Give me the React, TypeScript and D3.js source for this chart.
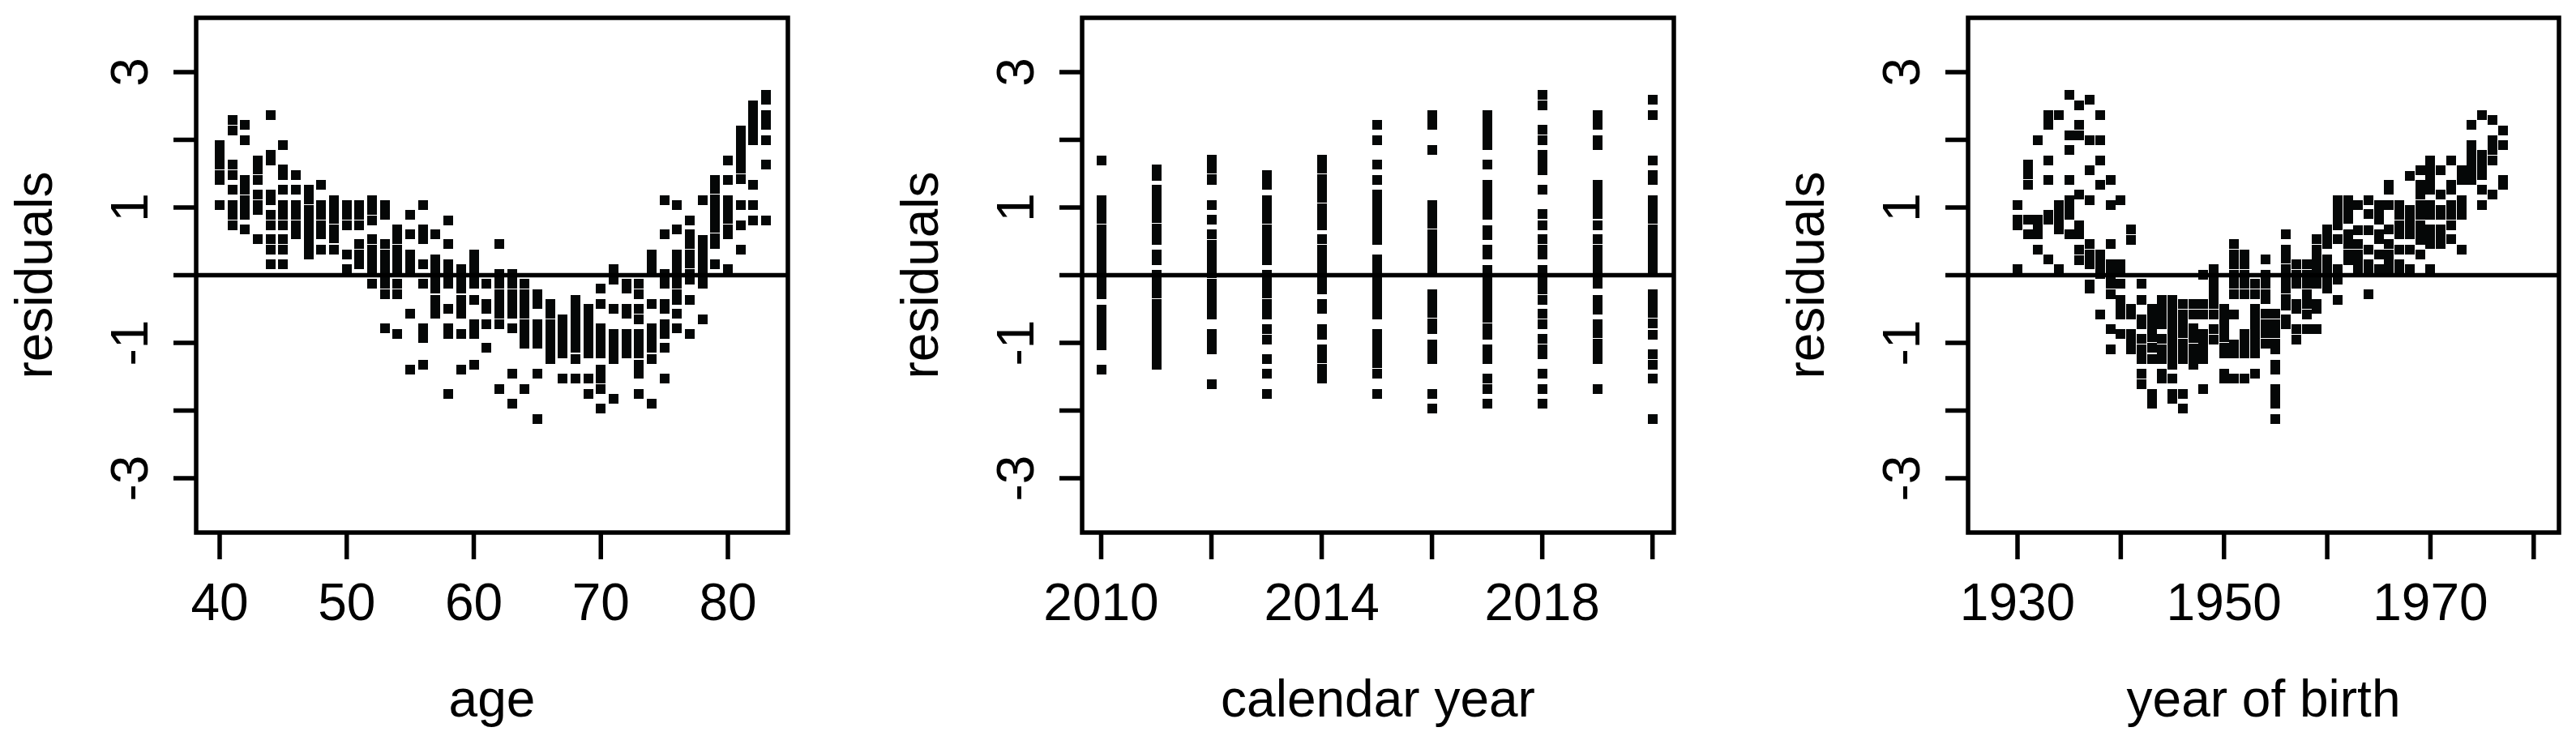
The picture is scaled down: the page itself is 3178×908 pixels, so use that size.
import React from 'react';
import * as d3 from 'd3';

// ---------- data ----------
const ages = [40, 41, 42, 43, 44, 45, 46, 47, 48, 49, 50, 51, 52, 53, 54, 55, 56, 57, 58, 59, 60, 61,
  62, 63, 64, 65, 66, 67, 68, 69, 70, 71, 72, 73, 74, 75, 76, 77, 78, 79, 80, 81, 82, 83];
const ageResiduals: number[][] = [
  [1.92, 1.78, 1.63, 1.48, 1.41, 1.04],
  [2.29, 2.14, 1.63, 1.48, 1.26, 1.04, 0.89, 0.74],
  [2.22, 1.99, 1.41, 1.26, 1.11, 0.97, 0.89, 0.68],
  [1.70, 1.56, 1.41, 1.19, 1.03, 0.97, 0.53],
  [2.36, 1.78, 1.70, 1.19, 1.11, 0.89, 0.74, 0.53, 0.38, 0.16],
  [1.92, 1.56, 1.48, 1.26, 1.04, 0.89, 0.74, 0.53, 0.38, 0.16],
  [1.48, 1.26, 1.04, 0.89, 0.74, 0.60],
  [1.26, 1.12, 0.97, 0.83, 0.69, 0.55, 0.41, 0.30],
  [1.33, 1.04, 0.89, 0.74, 0.60, 0.38],
  [1.11, 0.97, 0.83, 0.68, 0.54, 0.38],
  [1.04, 0.89, 0.74, 0.30, 0.085],
  [1.04, 0.89, 0.74, 0.46, 0.30, 0.16],
  [1.11, 0.97, 0.81, 0.53, 0.38, 0.23, 0.085, -0.13],
  [1.04, 0.89, 0.46, 0.30, 0.16, 0.02, -0.13, -0.28, -0.79],
  [0.68, 0.53, 0.38, 0.23, 0.085, -0.13, -0.28, -0.87],
  [0.89, 0.60, 0.30, 0.16, 0.085, -0.57, -1.39],
  [1.04, 0.68, 0.53, 0.16, -0.13, -0.79, -0.93, -1.32],
  [0.60, 0.23, 0.085, -0.06, -0.20, -0.36, -0.50, -0.57],
  [0.81, 0.46, 0.16, 0.02, -0.13, -0.50, -0.79, -0.87, -1.75],
  [0.085, -0.06, -0.20, -0.36, -0.50, -0.57, -0.87, -1.39],
  [0.30, 0.16, 0.02, -0.13, -0.36, -0.72, -0.87, -1.32],
  [-0.13, -0.42, -0.50, -0.72, -1.07],
  [0.46, 0.02, -0.13, -0.28, -0.42, -0.57, -0.72, -1.68],
  [0.02, -0.13, -0.28, -0.42, -0.57, -0.79, -1.46, -1.90],
  [-0.13, -0.28, -0.42, -0.57, -0.72, -0.87, -1.01, -1.68],
  [-0.28, -0.42, -0.72, -0.87, -1.01, -1.46, -2.12],
  [-0.42, -0.57, -0.72, -0.87, -1.01, -1.16, -1.24],
  [-0.65, -0.80, -0.93, -1.07, -1.16, -1.53],
  [-0.36, -0.50, -0.64, -0.79, -0.93, -1.07, -1.24, -1.53],
  [-0.50, -0.64, -0.79, -0.93, -1.07, -1.16, -1.53, -1.75],
  [-0.20, -0.42, -0.79, -0.93, -1.07, -1.16, -1.39, -1.53, -1.68, -1.97],
  [0.085, -0.06, -0.50, -0.87, -1.01, -1.16, -1.24, -1.83],
  [-0.13, -0.20, -0.50, -0.57, -0.87, -1.01, -1.16],
  [-0.13, -0.28, -0.50, -0.65, -0.87, -1.01, -1.16, -1.32, -1.46, -1.75],
  [0.30, 0.16, 0.085, -0.42, -0.79, -0.93, -1.07, -1.24, -1.90],
  [1.11, 0.60, 0.02, -0.13, -0.42, -0.50, -0.72, -0.87, -1.07, -1.53],
  [1.04, 0.68, 0.30, 0.16, 0.02, -0.13, -0.28, -0.36, -0.57, -0.79],
  [0.81, 0.60, 0.46, 0.31, 0.17, 0.02, -0.06, -0.36, -0.87],
  [1.11, 0.52, 0.38, 0.23, 0.085, -0.06, -0.13, -0.65],
  [1.41, 1.27, 1.12, 0.98, 0.84, 0.70, 0.55, 0.46, 0.16],
  [1.70, 1.41, 1.11, 0.97, 0.83, 0.68, 0.60, 0.085],
  [2.14, 2.00, 1.86, 1.72, 1.57, 1.42, 1.04, 0.74, 0.38],
  [2.51, 2.37, 2.23, 2.09, 2.00, 1.33, 1.04, 0.81],
  [2.66, 2.59, 2.36, 2.22, 1.99, 1.63, 0.81],
];

const years = [2010, 2011, 2012, 2013, 2014, 2015, 2016, 2017, 2018, 2019, 2020];
const yearResiduals: number[][] = [
  [1.70, 1.11, 0.97, 0.83, 0.68, 0.54, 0.40, 0.26, 0.11, -0.03, -0.17, -0.28, -0.51, -0.65, -0.79, -0.93, -1.03, -1.39],
  [1.56, 1.47, 1.26, 1.12, 0.98, 0.84, 0.69, 0.55, 0.52, 0.30, 0.22, 0.01, -0.13, -0.27, -0.42, -0.56, -0.70, -0.84, -0.99, -1.13, -1.27, -1.32],
  [1.71, 1.57, 1.42, 1.41, 1.04, 0.82, 0.60, 0.45, 0.31, 0.17, 0.03, -0.12, -0.26, -0.40, -0.55, -0.58, -0.87, -1.01, -1.09, -1.61],
  [1.48, 1.33, 1.11, 0.97, 0.83, 0.68, 0.54, 0.40, 0.26, 0.22, 0.01, -0.13, -0.27, -0.42, -0.56, -0.58, -0.80, -0.95, -1.24, -1.46, -1.75],
  [1.71, 1.57, 1.42, 1.28, 1.14, 0.99, 0.85, 0.74, 0.53, 0.38, 0.24, 0.10, -0.05, -0.19, -0.21, -0.43, -0.50, -0.80, -0.88, -1.09, -1.23, -1.38, -1.53],
  [2.22, 1.99, 1.63, 1.41, 1.19, 1.05, 0.91, 0.76, 0.62, 0.52, 0.23, 0.09, -0.05, -0.20, -0.34, -0.48, -0.58, -0.87, -1.01, -1.16, -1.30, -1.46, -1.75],
  [2.36, 2.22, 1.85, 1.04, 0.90, 0.76, 0.61, 0.47, 0.33, 0.18, 0.07, -0.28, -0.42, -0.56, -0.71, -0.80, -1.02, -1.17, -1.24, -1.75, -1.97],
  [2.36, 2.22, 2.08, 1.93, 1.92, 1.63, 1.33, 1.19, 1.05, 0.90, 0.89, 0.67, 0.59, 0.38, 0.30, 0.08, -0.06, -0.21, -0.35, -0.49, -0.63, -0.78, -0.88, -1.09, -1.24, -1.53, -1.68, -1.90],
  [2.66, 2.51, 2.15, 1.99, 1.78, 1.63, 1.55, 1.26, 0.90, 0.74, 0.53, 0.38, 0.30, 0.08, -0.06, -0.21, -0.36, -0.57, -0.73, -0.94, -1.09, -1.17, -1.46, -1.68, -1.90],
  [2.36, 2.22, 1.99, 1.92, 1.33, 1.19, 1.05, 0.90, 0.74, 0.53, 0.38, 0.24, 0.10, -0.05, -0.13, -0.36, -0.51, -0.72, -0.86, -1.01, -1.15, -1.24, -1.68],
  [2.59, 2.36, 1.70, 1.48, 1.41, 1.11, 0.97, 0.83, 0.68, 0.54, 0.40, 0.26, 0.11, 0.07, -0.28, -0.42, -0.56, -0.71, -0.88, -1.17, -1.32, -1.53, -2.12],
];

const cohorts = [1930, 1931, 1932, 1933, 1934, 1935, 1936, 1937, 1938, 1939, 1940, 1941, 1942, 1943,
  1944, 1945, 1946, 1947, 1948, 1949, 1950, 1951, 1952, 1953, 1954, 1955, 1956, 1957, 1958, 1959,
  1960, 1961, 1962, 1963, 1964, 1965, 1966, 1967, 1968, 1969, 1970, 1971, 1972, 1973, 1974, 1975, 1976, 1977];
const cohortResiduals: number[][] = [
  [1.04, 0.82, 0.74, 0.085],
  [1.63, 1.49, 1.34, 0.82, 0.60],
  [1.99, 0.82, 0.68, 0.60, 0.38],
  [2.36, 2.22, 1.70, 1.41, 0.89, 0.82, 0.23],
  [2.36, 1.04, 0.89, 0.75, 0.68, 0.085],
  [2.66, 2.07, 1.85, 1.41, 1.11, 1.04, 0.89, 0.60],
  [2.51, 2.22, 2.07, 1.19, 0.74, 0.60, 0.38, 0.22],
  [2.59, 1.99, 1.55, 1.11, 0.46, 0.31, 0.16, -0.14, -0.20],
  [2.36, 1.99, 1.70, 1.33, 0.30, 0.16, 0.02, -0.58],
  [1.41, 1.04, 0.46, 0.16, 0.02, -0.13, -0.28, -0.80, -1.09],
  [1.11, 0.16, 0.085, -0.13, -0.36, -0.50, -0.58, -0.87],
  [0.68, 0.52, -0.50, -0.58, -0.87, -1.01, -1.09],
  [-0.13, -0.36, -0.65, -0.73, -0.94, -1.09, -1.24, -1.46, -1.61],
  [-0.50, -0.64, -0.78, -0.92, -1.07, -1.24, -1.75, -1.90],
  [-0.36, -0.50, -0.64, -0.73, -0.94, -1.09, -1.24, -1.46, -1.53],
  [-0.36, -0.50, -0.64, -0.78, -0.93, -1.07, -1.21, -1.32, -1.53, -1.75, -1.83],
  [-0.42, -0.58, -0.72, -0.86, -1.01, -1.16, -1.24, -1.75, -1.97],
  [-0.42, -0.58, -0.79, -0.93, -1.08, -1.22, -1.32],
  [0.01, -0.42, -0.58, -0.87, -1.01, -1.16, -1.24, -1.68],
  [0.085, -0.06, -0.20, -0.28, -0.42, -0.58, -0.80, -0.95],
  [-0.50, -0.64, -0.78, -0.92, -1.07, -1.16, -1.46, -1.53],
  [0.46, 0.30, 0.16, 0.01, -0.13, -0.28, -0.58, -1.02, -1.16, -1.53],
  [0.30, 0.16, 0.01, -0.13, -0.28, -0.87, -1.01, -1.16, -1.53],
  [-0.13, -0.28, -0.50, -0.64, -0.78, -0.92, -1.03, -1.16, -1.46],
  [0.23, 0.01, -0.13, -0.28, -0.35, -0.57, -0.72, -0.86, -1.01],
  [-0.57, -0.72, -0.86, -1.01, -1.09, -1.32, -1.39, -1.68, -1.82, -1.90, -2.12],
  [0.60, 0.38, 0.24, 0.09, -0.05, -0.20, -0.35, -0.45, -0.65, -0.73],
  [0.16, 0.01, -0.13, -0.42, -0.50, -0.80, -0.95],
  [0.16, 0.01, -0.13, -0.28, -0.42, -0.58, -0.80],
  [0.53, 0.38, 0.23, 0.085, -0.06, -0.13, -0.42, -0.50, -0.80],
  [0.68, 0.53, 0.46, 0.23, 0.085, -0.06, -0.20],
  [1.11, 0.97, 0.83, 0.74, 0.53, 0.085, -0.06, -0.36],
  [1.11, 0.97, 0.83, 0.60, 0.46, 0.30, 0.22],
  [1.04, 0.67, 0.46, 0.31, 0.16, 0.085],
  [1.11, 0.90, 0.67, 0.38, 0.16, 0.085, -0.28],
  [1.04, 0.89, 0.82, 0.60, 0.53, 0.30, 0.085],
  [1.33, 1.26, 1.04, 0.68, 0.46, 0.31, 0.16, 0.085],
  [1.04, 0.89, 0.74, 0.60, 0.38, 0.16, 0.085],
  [1.47, 0.97, 0.82, 0.68, 0.60, 0.38, 0.085],
  [1.55, 1.33, 1.19, 1.04, 0.89, 0.74, 0.60, 0.52, 0.30],
  [1.70, 1.55, 1.41, 1.26, 1.04, 0.89, 0.68, 0.53, 0.46, 0.085],
  [1.55, 1.19, 0.97, 0.89, 0.68, 0.60, 0.46],
  [1.70, 1.33, 1.26, 1.04, 0.89, 0.74, 0.53],
  [1.55, 1.41, 1.11, 0.97, 0.89, 0.38],
  [2.22, 1.92, 1.78, 1.63, 1.55, 1.41],
  [2.36, 1.78, 1.70, 1.55, 1.48, 1.26, 1.04],
  [2.29, 1.99, 1.85, 1.70, 1.19],
  [2.14, 1.92, 1.41, 1.33],
];

const yTicks = [-3, -2, -1, 0, 1, 2, 3];
const yTickLabels = [-3, -1, 1, 3];
const ageTicks = [40, 50, 60, 70, 80];
const ageTickLabels = [40, 50, 60, 70, 80];
const yearTicks = [2010, 2012, 2014, 2016, 2018, 2020];
const yearTickLabels = [2010, 2014, 2018];
const cohortTicks = [1930, 1940, 1950, 1960, 1970, 1980];
const cohortTickLabels = [1930, 1950, 1970];

// ---------- layout ----------
const W = 3178;
const H = 908;
const BOX_TOP = 22;
const BOX_BOTTOM = 657;
const LW = 5.5;
const PT = 12;
const FONT = "'Liberation Sans', Arial, Helvetica, sans-serif";
const FS = 64;

const y = d3.scaleLinear().domain([-3, 3]).range([590, 89]);

type Panel = {
  xs: number[];
  vals: number[][];
  left: number;
  right: number;
  dom: [number, number];
  rng: [number, number];
  ticks: number[];
  labels: number[];
  title: string;
};

const panels: Panel[] = [
  { xs: ages, vals: ageResiduals, left: 242, right: 972, dom: [40, 80], rng: [271, 898], ticks: ageTicks, labels: ageTickLabels, title: 'age' },
  { xs: years, vals: yearResiduals, left: 1335, right: 2065, dom: [2010, 2020], rng: [1358.5, 2038.7], ticks: yearTicks, labels: yearTickLabels, title: 'calendar year' },
  { xs: cohorts, vals: cohortResiduals, left: 2428, right: 3157, dom: [1930, 1980], rng: [2489, 3125.8], ticks: cohortTicks, labels: cohortTickLabels, title: 'year of birth' },
];

function PanelView({ p }: { p: Panel }) {
  const x = d3.scaleLinear().domain(p.dom).range(p.rng);
  const cx = (p.left + p.right) / 2;
  const cy = (BOX_TOP + BOX_BOTTOM) / 2;
  return (
    <g>
      {p.xs.map((xv, i) =>
        p.vals[i].map((v, j) => (
          <rect key={`${i}-${j}`} x={x(xv) - PT / 2} y={y(v) - PT / 2} width={PT} height={PT} fill="#050707" shapeRendering="crispEdges" />
        ))
      )}
      <line x1={p.left} x2={p.right} y1={y(0)} y2={y(0)} stroke="#000" strokeWidth={LW} />
      <rect x={p.left} y={BOX_TOP} width={p.right - p.left} height={BOX_BOTTOM - BOX_TOP} fill="none" stroke="#000" strokeWidth={LW} />
      {yTicks.map((t) => (
        <line key={`yt${t}`} x1={p.left - 28} x2={p.left} y1={y(t)} y2={y(t)} stroke="#000" strokeWidth={LW} />
      ))}
      {yTickLabels.map((t) => (
        <text key={`yl${t}`} transform={`translate(${p.left - 60},${y(t)}) rotate(-90)`} textAnchor="middle" fontFamily={FONT} fontSize={FS} fill="#000">
          {t < 0 ? `-${Math.abs(t)}` : `${t}`}
        </text>
      ))}
      <text transform={`translate(${p.left - 178},${cy}) rotate(-90)`} textAnchor="middle" fontFamily={FONT} fontSize={FS} fill="#000">
        residuals
      </text>
      {p.ticks.map((t) => (
        <line key={`xt${t}`} x1={x(t)} x2={x(t)} y1={BOX_BOTTOM} y2={BOX_BOTTOM + 33} stroke="#000" strokeWidth={LW} />
      ))}
      {p.labels.map((t) => (
        <text key={`xl${t}`} x={x(t)} y={765} textAnchor="middle" fontFamily={FONT} fontSize={FS} fill="#000">
          {t}
        </text>
      ))}
      <text x={cx} y={884} textAnchor="middle" fontFamily={FONT} fontSize={FS} fill="#000">
        {p.title}
      </text>
    </g>
  );
}

export default function App() {
  return (
    <svg width={W} height={H} viewBox={`0 0 ${W} ${H}`} style={{ position: 'absolute', left: 0, top: 0, background: '#fff' }}>
      <rect x={0} y={0} width={W} height={H} fill="#fff" />
      {panels.map((p, i) => (
        <PanelView key={i} p={p} />
      ))}
    </svg>
  );
}
